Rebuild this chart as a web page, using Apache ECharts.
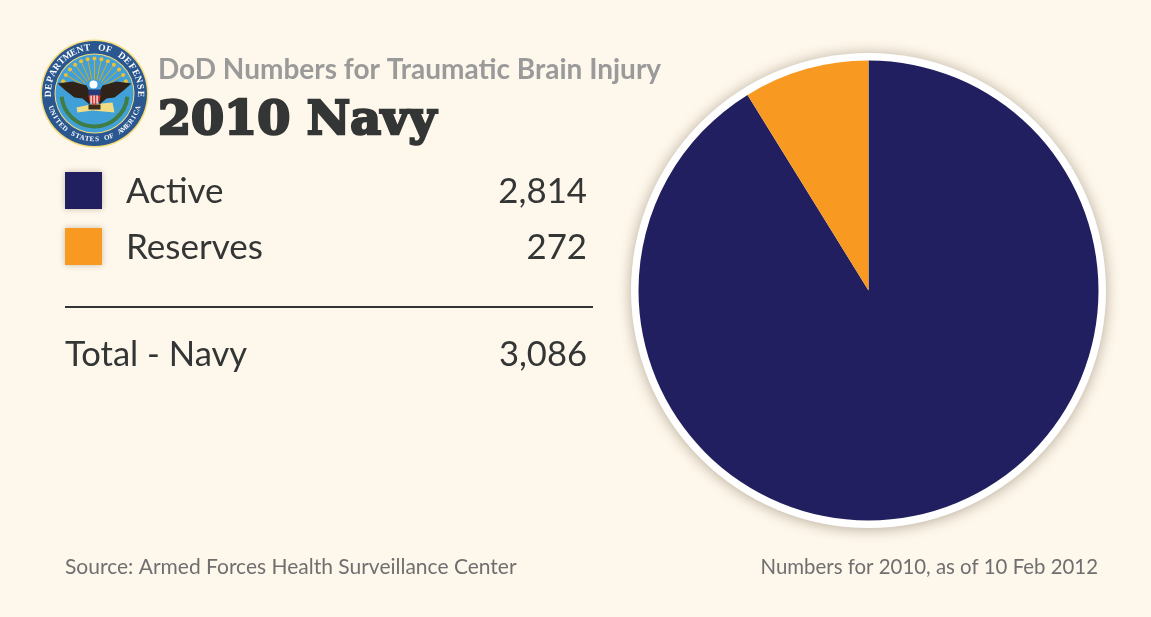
<!DOCTYPE html>
<html>
<head>
<meta charset="utf-8">
<title>2010 Navy</title>
<style>
html,body{margin:0;padding:0;background:#fef7eb;}
#main{width:1151px;height:617px;}
</style>
<script src="https://cdn.jsdelivr.net/npm/echarts@6/dist/echarts.min.js"></script>
</head>
<body>
<div id="main"></div>
<script>
const categories = ['Active', 'Reserves'];
const values = [2814, 272];
const valueLabels = ['2,814', '272'];
const totalName = 'Total - Navy';
const totalLabel = '3,086';
const colors = ['#211f5f', '#f89a22'];

const kicker = 'DoD Numbers for Traumatic Brain Injury';
const title = '2010 Navy';
const source = 'Source: Armed Forces Health Surveillance Center';
const note = 'Numbers for 2010, as of 10 Feb 2012';
const sealTop = 'DEPARTMENT OF DEFENSE';
const sealBottom = 'UNITED STATES OF AMERICA';

const bodyFont = 'Lato';
const inkColor = '#333635';

function label(text, x, y, size, color, align, weight) {
	return {
		type: 'text', z: 10, x: x, y: y, silent: true,
		style: {
			text: text, fill: color, fontFamily: bodyFont, fontSize: size,
			fontWeight: weight || 400, align: align || 'left', verticalAlign: 'middle'
		}
	};
}

// the seal, built around its centre
function drawSeal(cx, cy) {
	let els = [];
	let disc = function(r, fill) {
		els.push({type: 'circle', z: 5, silent: true, shape: {cx: cx, cy: cy, r: r}, style: {fill: fill}});
	};
	disc(54, '#f6dc7a');
	disc(52.5, '#2b5790');
	disc(40, '#f6dc7a');
	disc(39, '#41a0d8');

	// rays and stars
	for (let i = 0; i <= 12; i++) {
		let a = Math.PI * (1.1 + 0.8 * i / 12);
		let c = Math.cos(a), s = Math.sin(a);
		els.push({type: 'line', z: 6, silent: true,
			shape: {x1: cx + c * 12, y1: cy - 2 + s * 12, x2: cx + c * 31, y2: cy - 2 + s * 31},
			style: {stroke: '#d9ab1e', lineWidth: 1}});
		els.push({type: 'circle', z: 6, silent: true,
			shape: {cx: cx + c * 33, cy: cy - 2 + s * 33, r: 2},
			style: {fill: '#f2c02e'}});
	}

	// laurel
	els.push({type: 'arc', z: 6, silent: true,
		shape: {cx: cx, cy: cy, r: 33, startAngle: 0.1, endAngle: Math.PI - 0.1},
		style: {stroke: '#3f7d45', lineWidth: 4, fill: null}});

	// arrows
	els.push({type: 'polygon', z: 7, silent: true, shape: {points: [
		[cx - 18, cy + 14], [cx - 4, cy + 11], [cx + 18, cy + 9], [cx + 20, cy + 19], [cx - 2, cy + 17], [cx - 17, cy + 19]
	]}, style: {fill: '#f1dc84'}});

	// wings and body
	els.push({type: 'polygon', z: 8, silent: true, shape: {points: [
		[cx - 37, cy - 10], [cx - 22, cy - 12], [cx - 8, cy - 8], [cx - 3, cy + 2], [cx - 5, cy + 11],
		[cx - 12, cy + 5], [cx - 20, cy + 4], [cx - 29, cy - 3]
	]}, style: {fill: '#2f2218'}});
	els.push({type: 'polygon', z: 8, silent: true, shape: {points: [
		[cx + 37, cy - 10], [cx + 22, cy - 12], [cx + 8, cy - 8], [cx + 3, cy + 2], [cx + 5, cy + 11],
		[cx + 12, cy + 5], [cx + 20, cy + 4], [cx + 29, cy - 3]
	]}, style: {fill: '#2f2218'}});
	els.push({type: 'circle', z: 9, silent: true, shape: {cx: cx - 1, cy: cy - 9, r: 4}, style: {fill: '#ffffff'}});
	els.push({type: 'rect', z: 9, silent: true, shape: {x: cx - 6, y: cy - 4, width: 12, height: 6}, style: {fill: '#263a7a'}});
	els.push({type: 'polygon', z: 9, silent: true, shape: {points: [
		[cx - 6, cy + 2], [cx + 6, cy + 2], [cx + 5, cy + 8], [cx, cy + 12], [cx - 5, cy + 8]
	]}, style: {fill: '#cf3a36'}});
	for (let i = 0; i < 3; i++) {
		els.push({type: 'rect', z: 10, silent: true, shape: {x: cx - 4 + i * 3, y: cy + 2, width: 1.2, height: 8}, style: {fill: '#ffffff'}});
	}
	els.push({type: 'rect', z: 8, silent: true, shape: {x: cx - 6, y: cy + 11, width: 12, height: 5}, style: {fill: '#3a2c18'}});

	// lettering on the ring
	let step = 0.158;
	for (let i = 0; i < sealTop.length; i++) {
		let a = step * (i - (sealTop.length - 1) / 2);
		els.push({type: 'text', z: 7, silent: true,
			x: cx + Math.sin(a) * 46, y: cy - Math.cos(a) * 46,
			rotation: -a,
			style: {text: sealTop[i], fill: '#ffffff', fontFamily: 'Liberation Serif',
				fontWeight: 700, fontSize: 9.5, align: 'center', verticalAlign: 'middle'}});
	}
	// bottom text reads left to right, so the angle runs backwards
	step = 0.108;
	for (let i = 0; i < sealBottom.length; i++) {
		let a = Math.PI + step * ((sealBottom.length - 1) / 2 - i);
		els.push({type: 'text', z: 7, silent: true,
			x: cx + Math.sin(a) * 46, y: cy - Math.cos(a) * 46,
			rotation: -(a - Math.PI),
			style: {text: sealBottom[i], fill: '#ffffff', fontFamily: 'Liberation Serif',
				fontWeight: 700, fontSize: 7, align: 'center', verticalAlign: 'middle'}});
	}
	return els;
}

let graphicEls = [
	// white rim with soft shadow under the pie
	{type: 'circle', z: 0, silent: true, shape: {cx: 868.5, cy: 290.5, r: 237.5},
		style: {fill: '#ffffff', shadowBlur: 14, shadowColor: 'rgba(70,55,30,0.4)', shadowOffsetY: 1}},
	label(kicker, 158, 70, 28, '#9a9a9a', 'left', 700),
	{type: 'text', z: 10, x: 158, y: 122, silent: true,
		style: {text: title, fill: inkColor, stroke: inkColor, lineWidth: 2.6, fontFamily: 'DejaVu Serif',
			fontWeight: 700, fontSize: 47.5, align: 'left', verticalAlign: 'middle'}},
	{type: 'line', z: 10, silent: true, shape: {x1: 65, y1: 307, x2: 593, y2: 307},
		style: {stroke: inkColor, lineWidth: 2}},
	label(totalName, 65, 355, 34.6, inkColor),
	label(totalLabel, 587, 355, 34.6, inkColor, 'right'),
	label(source, 65, 567, 21, '#6f6f6f'),
	label(note, 1098, 567, 20.4, '#6f6f6f', 'right')
];

categories.forEach(function(name, i) {
	let y = 172 + i * 56;
	graphicEls.push({type: 'rect', z: 10, silent: true, shape: {x: 65, y: y, width: 37, height: 37},
		style: {fill: colors[i], shadowBlur: 6, shadowColor: 'rgba(70,55,30,0.3)'}});
	graphicEls.push(label(name, 126, y + 20, 35, inkColor));
	graphicEls.push(label(valueLabels[i], 587, y + 20, 34.8, inkColor, 'right'));
});

graphicEls = graphicEls.concat(drawSeal(94.5, 93.5));

let myChart = echarts.init(document.getElementById('main'), null, {renderer: 'canvas'});
myChart.setOption({
	backgroundColor: '#fef7eb',
	animation: false,
	color: colors,
	tooltip: {show: false},
	graphic: {elements: graphicEls},
	series: [
		{
			type: 'pie',
			center: [868.5, 290.5],
			radius: [0, 230],
			startAngle: 90,
			clockwise: true,
			silent: true,
			label: {show: false},
			labelLine: {show: false},
			data: categories.map(function(name, i) {
				return {name: name, value: values[i]};
			})
		}
	]
});
</script>
</body>
</html>
